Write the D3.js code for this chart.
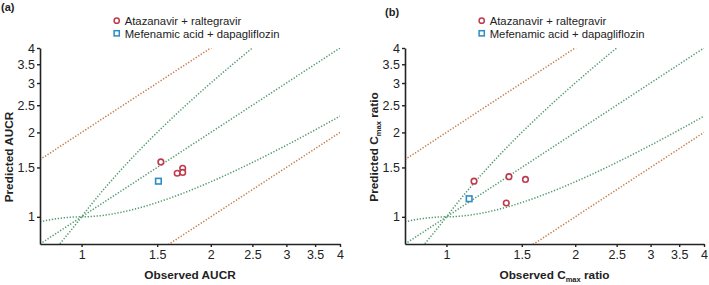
<!DOCTYPE html>
<html>
<head>
<meta charset="utf-8">
<script src="https://cdn.jsdelivr.net/npm/d3@7"></script>
<style>
  body { margin: 0; background: #fff; }
  text { font-family: "Liberation Sans", Arial, sans-serif; }
</style>
</head>
<body>
<div id="chart"></div>
<script>
// ticks shared by both panels
const tickValues = [1, 1.5, 2, 2.5, 3, 3.5, 4]
const domain = [0.8, 4]
const legendNames = ['Atazanavir + raltegravir', 'Mefenamic acid + dapagliflozin']

// panel (a) AUCR
const aucAtaObs = [1.53, 1.67, 1.72, 1.72]
const aucAtaPred = [1.57, 1.43, 1.49, 1.44]
const aucMefObs = [1.51]
const aucMefPred = [1.34]

// panel (b) Cmax ratio
const cmaxAtaObs = [1.16, 1.40, 1.53, 1.38]
const cmaxAtaPred = [1.34, 1.39, 1.36, 1.12]
const cmaxMefObs = [1.13]
const cmaxMefPred = [1.16]

// Guest limits (delta = 1) and 2-fold bounds, sampled along x
const guestX = d3.range(0.8, 4.001, 0.02)
function guestUpper(r) { return r >= 1 ? 2 * r - 1 : r / (2 - r) }
function guestLower(r) { return r >= 1 ? r * r / (2 * r - 1) : r * (2 - r) }

const svg = d3.select('#chart').append('svg')
  .attr('width', 709).attr('height', 285)

const green = '#4f9a6c', brown = '#c47a45', red = '#bf3a4c', blue = '#2d8cc6'

function drawPanel(p) {
  const x = d3.scaleLog().domain(domain).range([p.x0, p.x1])
  const y = d3.scaleLog().domain(domain).range([244, 48])
  const g = svg.append('g')

  const clipId = 'clip' + p.id
  svg.append('clipPath').attr('id', clipId)
    .append('rect').attr('x', p.x0).attr('y', 48).attr('width', p.x1 - p.x0).attr('height', 196)

  const lineGen = d3.line().x(d => x(d[0])).y(d => y(d[1]))
  const refLines = [
    {pts: guestX.map(r => [r, r * 2]), c: brown},
    {pts: guestX.map(r => [r, r / 2]), c: brown},
    {pts: guestX.map(r => [r, r]), c: green},
    {pts: guestX.map(r => [r, guestUpper(r)]), c: green},
    {pts: guestX.map(r => [r, guestLower(r)]), c: green}
  ]
  g.append('g').attr('clip-path', `url(#${clipId})`)
    .selectAll('path').data(refLines).enter().append('path')
    .attr('d', d => lineGen(d.pts))
    .attr('fill', 'none')
    .attr('stroke', d => d.c)
    .attr('stroke-width', 1.5)
    .attr('stroke-dasharray', '1.3,1.7')

  // axes
  const xAxis = d3.axisBottom(x).tickValues(tickValues).tickFormat(d3.format('')).tickSize(3).tickSizeOuter(0)
  const yAxis = d3.axisLeft(y).tickValues(tickValues).tickFormat(d3.format('')).tickSize(3).tickSizeOuter(0)
  const gx = g.append('g').attr('transform', 'translate(0,244)').call(xAxis)
  const gy = g.append('g').attr('transform', `translate(${p.x0},0)`).call(yAxis)
  ;[gx, gy].forEach(a => {
    a.select('.domain').attr('stroke', '#222').attr('stroke-width', 1.6)
    a.selectAll('.tick line').attr('stroke', '#222').attr('stroke-width', 1.4)
    a.selectAll('.tick text').attr('font-size', 12.5).attr('fill', '#222')
      .style('font-family', '"Liberation Sans", Arial, sans-serif')
  })
  gx.selectAll('.tick text').attr('dy', '0.75em')
  gy.selectAll('.tick text').attr('x', -5)

  // points
  g.selectAll('.ata').data(p.ataObs).enter().append('circle')
    .attr('cx', d => x(d)).attr('cy', (d, i) => y(p.ataPred[i]))
    .attr('r', 2.8).attr('fill', '#fff').attr('stroke', red).attr('stroke-width', 1.6)
  g.selectAll('.mef').data(p.mefObs).enter().append('rect')
    .attr('x', d => x(d) - 2.8).attr('y', (d, i) => y(p.mefPred[i]) - 2.8)
    .attr('width', 5.6).attr('height', 5.6)
    .attr('fill', '#fff').attr('stroke', blue).attr('stroke-width', 1.6)

  // legend
  const lg = g.append('g').attr('transform', `translate(${p.legX},0)`)
  lg.append('circle').attr('cx', 0).attr('cy', 20.7).attr('r', 2.6)
    .attr('fill', '#fff').attr('stroke', red).attr('stroke-width', 1.5)
  lg.append('rect').attr('x', -2.6).attr('y', 30.7).attr('width', 5.2).attr('height', 5.2)
    .attr('fill', '#fff').attr('stroke', blue).attr('stroke-width', 1.5)
  lg.selectAll('.lt').data(legendNames).enter().append('text')
    .attr('x', 8).attr('y', (d, i) => 24.8 + i * 12.7)
    .attr('font-size', 11.3).attr('fill', '#222').text(d => d)

  // panel letter
  g.append('text').attr('x', p.letterX).attr('y', p.letterY)
    .attr('font-size', 11).attr('font-weight', 'bold').attr('fill', '#222').text(p.letter)

  // axis titles
  const xt = g.append('text').attr('x', (p.x0 + p.x1) / 2).attr('y', 279)
    .attr('text-anchor', 'middle').attr('font-size', 11.8).attr('font-weight', 'bold').attr('fill', '#222')
  const yt = g.append('text')
    .attr('transform', `translate(${p.yTitleX},${p.yTitleY}) rotate(-90)`)
    .attr('text-anchor', 'middle').attr('font-size', 11.8).attr('font-weight', 'bold').attr('fill', '#222')
  if (p.cmax) {
    xt.append('tspan').text('Observed C')
    xt.append('tspan').attr('font-size', 7.5).attr('dy', 3).text('max')
    xt.append('tspan').attr('dy', -3).text(' ratio')
    yt.append('tspan').text('Predicted C')
    yt.append('tspan').attr('font-size', 7.5).attr('dy', 3).text('max')
    yt.append('tspan').attr('dy', -3).text(' ratio')
  } else {
    xt.text('Observed AUCR')
    yt.text('Predicted AUCR')
  }
}

drawPanel({id: 'a', x0: 40, x1: 340, legX: 116.7, letter: '(a)', letterX: 1, letterY: 11,
  yTitleX: 13, yTitleY: 157, cmax: false,
  ataObs: aucAtaObs, ataPred: aucAtaPred, mefObs: aucMefObs, mefPred: aucMefPred})
drawPanel({id: 'b', x0: 405, x1: 704, legX: 481.7, letter: '(b)', letterX: 385, letterY: 16,
  yTitleX: 378, yTitleY: 147, cmax: true,
  ataObs: cmaxAtaObs, ataPred: cmaxAtaPred, mefObs: cmaxMefObs, mefPred: cmaxMefPred})
</script>
</body>
</html>
